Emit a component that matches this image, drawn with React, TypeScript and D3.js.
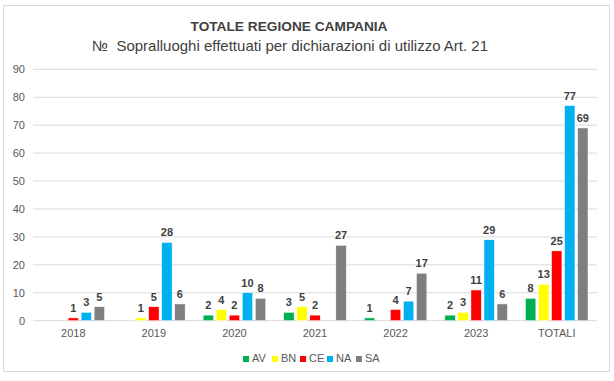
import React from "react";
import * as d3 from "d3";

const categories = ["2018", "2019", "2020", "2021", "2022", "2023", "TOTALI"];
const seriesNames = ["AV", "BN", "CE", "NA", "SA"];
const AV = [0, 0, 2, 3, 1, 2, 8];
const BN = [0, 1, 4, 5, 0, 3, 13];
const CE = [1, 5, 2, 2, 4, 11, 25];
const NA = [3, 28, 10, 0, 7, 29, 77];
const SA = [5, 6, 8, 27, 17, 6, 69];
const seriesValues = [AV, BN, CE, NA, SA];
const seriesColors = ["#00B050", "#FFFF00", "#FF0000", "#00B0F0", "#7F7F7F"];
const yTicks = [0, 10, 20, 30, 40, 50, 60, 70, 80, 90];

const W = 614;
const H = 381;
const FONT = "'Liberation Sans', Arial, sans-serif";

export default function App() {
  const plotLeft = 33;
  const plotRight = 597;
  const plotTop = 69.3;
  const plotBottom = 320.7;

  const x = d3.scaleBand().domain(categories).range([plotLeft, plotRight]).paddingInner(0).paddingOuter(0);
  const inner = d3
    .scaleBand()
    .domain(seriesNames)
    .range([9, x.bandwidth() - 9])
    .paddingInner(0.2)
    .paddingOuter(0);
  const y = d3.scaleLinear().domain([0, 90]).range([plotBottom, plotTop]);

  const legendX = [243, 272, 300, 327, 356];

  return (
    <svg
      width={W}
      height={H}
      style={{ position: "absolute", left: 0, top: 0, fontFamily: FONT }}
    >
      <rect x={0} y={0} width={W} height={H} fill="#fff" />
      <rect x={3.5} y={5.5} width={606} height={366} fill="#fff" stroke="#d9d9d9" strokeWidth={1} />
      <text x={289} y={31} textAnchor="middle" fontSize={13.7} fontWeight="bold" fill="#404040">
        TOTALE REGIONE CAMPANIA
      </text>
      <text x={290} y={51} textAnchor="middle" fontSize={15} fill="#404040" style={{ whiteSpace: "pre" }}>
        {"№  Sopralluoghi effettuati per dichiarazioni di utilizzo Art. 21"}
      </text>
      {yTicks.map((t) => (
        <g key={t}>
          <line x1={plotLeft} x2={plotRight} y1={y(t)} y2={y(t)} stroke="#d9d9d9" strokeWidth={1} />
          <text x={25} y={y(t) + 4} textAnchor="end" fontSize={11} fill="#595959">
            {t}
          </text>
        </g>
      ))}
      {categories.map((c, ci) => (
        <g key={c}>
          {seriesNames.map((s, si) => {
            const v = seriesValues[si][ci];
            const bx = (x(c) as number) + (inner(s) as number);
            const bw = inner.bandwidth();
            if (v === 0) return null;
            return (
              <g key={s}>
                <rect
                  x={bx}
                  y={y(v)}
                  width={bw}
                  height={y(0) - y(v)}
                  fill={seriesColors[si]}
                  stroke="#ffffff"
                  strokeWidth={0.5}
                />
                <text
                  x={bx + bw / 2}
                  y={y(v) - 6}
                  textAnchor="middle"
                  fontSize={11}
                  fontWeight="bold"
                  fill="#404040"
                >
                  {v}
                </text>
              </g>
            );
          })}
          <text
            x={(x(c) as number) + x.bandwidth() / 2}
            y={337}
            textAnchor="middle"
            fontSize={11}
            fill="#595959"
          >
            {c}
          </text>
        </g>
      ))}
      {seriesNames.map((s, si) => (
        <g key={s}>
          <rect x={legendX[si]} y={356} width={6} height={6} fill={seriesColors[si]} />
          <text x={legendX[si] + 9} y={362} fontSize={11} fill="#595959">
            {s}
          </text>
        </g>
      ))}
    </svg>
  );
}
